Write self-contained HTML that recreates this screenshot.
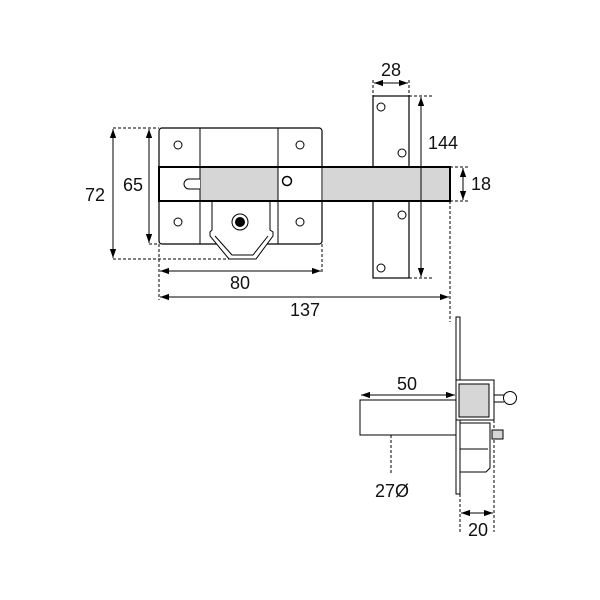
<!DOCTYPE html>
<html><head><style>body{margin:0;background:#fff}svg{display:block}text{font-family:"Liberation Sans",sans-serif;font-size:18px;fill:#111;text-anchor:middle}</style></head>
<body>
<svg width="600" height="600" viewBox="0 0 600 600" xmlns="http://www.w3.org/2000/svg">
<defs>
<marker id="a" viewBox="0 0 10 10" refX="10" refY="5" markerWidth="9" markerHeight="9" orient="auto-start-reverse"><path d="M0,1.5 L10,5 L0,8.5 Z" fill="#000"/></marker>
</defs>
<g stroke="#000" fill="none" stroke-width="1">
<rect x="373" y="96" width="36" height="182" fill="#fff" stroke-width="1.2"/>
<circle cx="381" cy="107" r="4"/><circle cx="402" cy="153" r="4"/><circle cx="402" cy="215" r="4"/><circle cx="381" cy="268" r="4"/>
<rect x="159" y="128" width="163" height="116" rx="3" fill="#fff" stroke-width="1.2"/>
<line x1="200" y1="128" x2="200" y2="244"/><line x1="278" y1="128" x2="278" y2="244"/>
<circle cx="178" cy="145" r="4"/><circle cx="300" cy="145" r="4"/><circle cx="178" cy="222" r="4"/><circle cx="300" cy="222" r="4"/>
<path d="M212,201 L212,230 L210,232 L210,236 L229,259 L256,259 L273,236 L273,232 L270,230 L270,201" fill="#fff"/>
<path d="M215,236 L232,255 L253,255 L268,236"/>
<circle cx="240" cy="222" r="8"/><circle cx="240" cy="222" r="4.5" fill="#000"/>
<rect x="159" y="167" width="291" height="34" fill="#fff" stroke-width="2"/>
<rect x="200" y="168" width="78" height="32" fill="#d6d6d6" stroke="none"/>
<rect x="323" y="168" width="126" height="32" fill="#d6d6d6" stroke="none"/>
<line x1="200" y1="168" x2="200" y2="200"/><line x1="278" y1="168" x2="278" y2="200"/><line x1="322" y1="168" x2="322" y2="200"/>
<path d="M200,179 L189,179 A5,5 0 0 0 189,189 L200,189" fill="#fff"/>
<circle cx="287" cy="181" r="4.5" fill="#fff" stroke-width="1.5"/>
<g stroke-dasharray="3,2">
<line x1="113" y1="128" x2="159" y2="128"/><line x1="113" y1="259" x2="230" y2="259"/>
<line x1="149" y1="244" x2="159" y2="244"/>
<line x1="159" y1="244" x2="159" y2="300"/><line x1="322" y1="244" x2="322" y2="274"/><line x1="450" y1="201" x2="450" y2="322"/>
<line x1="373" y1="80" x2="373" y2="96"/><line x1="409" y1="80" x2="409" y2="96"/>
<line x1="409" y1="96" x2="432" y2="96"/><line x1="409" y1="278" x2="432" y2="278"/>
<line x1="450" y1="167" x2="470" y2="167"/><line x1="450" y1="201" x2="470" y2="201"/>
<line x1="391" y1="435" x2="391" y2="475"/>
<line x1="460" y1="494" x2="460" y2="532"/><line x1="494" y1="420" x2="494" y2="532"/>
</g>
<line x1="113" y1="129" x2="113" y2="258" marker-start="url(#a)" marker-end="url(#a)"/>
<line x1="149" y1="129" x2="149" y2="243" marker-start="url(#a)" marker-end="url(#a)"/>
<line x1="160" y1="271" x2="321" y2="271" marker-start="url(#a)" marker-end="url(#a)"/>
<line x1="160" y1="297" x2="449" y2="297" marker-start="url(#a)" marker-end="url(#a)"/>
<line x1="374" y1="83" x2="408" y2="83" marker-start="url(#a)" marker-end="url(#a)"/>
<line x1="421" y1="97" x2="421" y2="277" marker-start="url(#a)" marker-end="url(#a)"/>
<line x1="463" y1="168" x2="463" y2="200" marker-start="url(#a)" marker-end="url(#a)"/>
<rect x="456" y="317" width="4" height="177" fill="#fff"/>
<rect x="360" y="400" width="96" height="35" fill="#fff"/>
<rect x="456" y="380" width="38" height="40" fill="#fff"/>
<rect x="459" y="384" width="30" height="33" fill="#d6d6d6"/>
<path d="M494,395 L504,395 M494,402 L504,402"/>
<circle cx="510" cy="398" r="6.5" fill="#fff"/>
<path d="M460,423 L490,423 L490,468 L486,472 L460,472"/>
<line x1="460" y1="449" x2="488" y2="449"/>
<rect x="492" y="430" width="11" height="9" fill="#d6d6d6"/>
<line x1="361" y1="395" x2="455" y2="395" marker-start="url(#a)" marker-end="url(#a)"/>
<line x1="461" y1="513" x2="493" y2="513" marker-start="url(#a)" marker-end="url(#a)"/>
</g>
<text x="95" y="201">72</text>
<text x="133" y="191">65</text>
<text x="240" y="289">80</text>
<text x="305" y="316">137</text>
<text x="391" y="76">28</text>
<text x="443" y="149">144</text>
<text x="481" y="190">18</text>
<text x="407" y="390">50</text>
<text x="392" y="497">27Ø</text>
<text x="478" y="536">20</text>
</svg>
</body></html>
